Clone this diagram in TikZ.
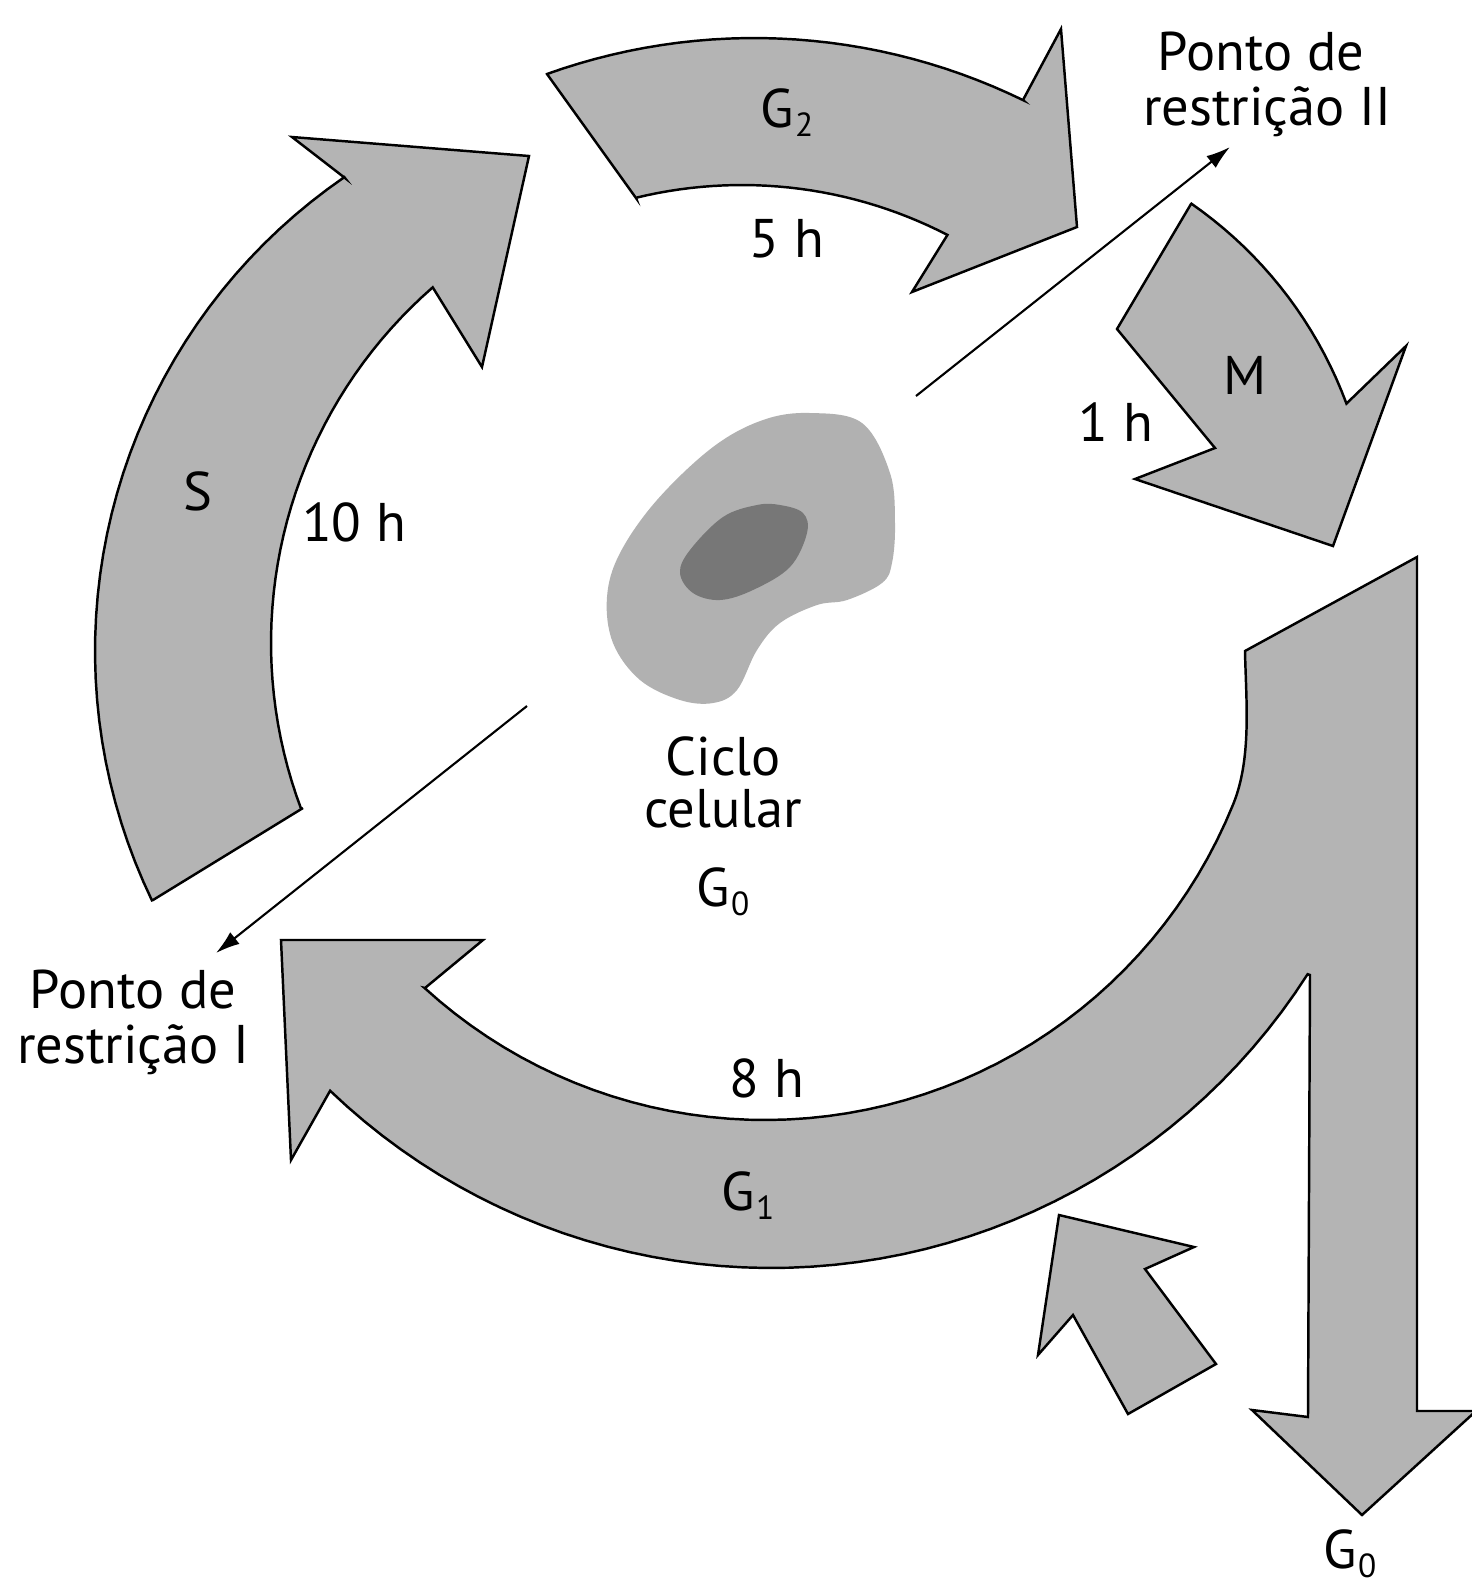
\documentclass[tikz,border=0pt]{standalone}
\usepackage{fontspec}
\setmainfont{PT Sans}
\usetikzlibrary{arrows.meta}
\definecolor{phasegray}{RGB}{180,180,180}
\definecolor{cellgray}{RGB}{177,177,177}
\definecolor{nucgray}{RGB}{119,119,119}
\newcommand{\lowidx}[1]{\kern0.3pt\raisebox{-2.8pt}{\fontsize{9.5}{9.5}\selectfont #1}}

\begin{document}
\begin{tikzpicture}[x=0.1mm, y=-0.1mm,
    phase/.style={fill=phasegray, draw=black, line width=0.7pt, line join=miter},
    pointer/.style={-{Latex[length=2.4mm,width=1.5mm]}, line width=0.6pt},
    every node/.style={font=\fontsize{15.5}{15.5}\selectfont, inner sep=0pt, anchor=base}]
    \fill[white] (0,0) rectangle (1472,1582);
    \useasboundingbox (0,0) rectangle (1472,1582);

    % S
    \draw[phase] (153,900) -- (303,808)
        -- plot[domain=159.4:228.9, samples=40, variable=\t] ({743+472*cos(\t)}, {643+472*sin(\t)})
        -- (482,367) -- (529,156) -- (292,137) -- (345,178)
        -- plot[domain=235.5:154.3, samples=40, variable=\t] ({670+575*cos(\t)}, {651+575*sin(\t)})
        -- cycle;

    % G2
    \draw[phase] (547,74) -- (636,198)
        -- plot[domain=256.3:297.3, samples=30, variable=\t] ({742+448*cos(\t)}, {633+448*sin(\t)})
        -- (912,292) -- (1077,227) -- (1061,29) -- (1023,100)
        -- plot[domain=296:250.3, samples=30, variable=\t] ({754+614*cos(\t)}, {652+614*sin(\t)})
        -- cycle;

    % M
    \draw[phase] (1117,329) -- (1191,204)
        -- plot[domain=304.8:339.6, samples=20, variable=\t] ({950+423*cos(\t)}, {551+423*sin(\t)})
        -- (1406,346) -- (1333,546) -- (1135,479) -- (1215,448) -- cycle;

    % G1 with the branch down to G0
    \draw[phase] (1417,557) -- (1417,1411) -- (1476,1411) -- (1362,1515) -- (1252,1410) -- (1308,1417) -- (1310,975)
        -- plot[domain=32.6:133.8, samples=50, variable=\t] ({771+637*cos(\t)}, {631+637*sin(\t)})
        -- (291,1160) -- (281,940) -- (483,940) -- (425,988)
        -- plot[domain=132.4:22, samples=50, variable=\t] ({765+505*cos(\t)}, {615+505*sin(\t)})
        .. controls (1252,758) and (1246,700) .. (1245,651) -- cycle;

    % back from G0
    \draw[phase] (1059,1215) -- (1194,1247) -- (1145,1269) -- (1216,1364) -- (1128,1414) -- (1073,1315) -- (1038,1355) -- cycle;

    % cell and nucleus
    \fill[cellgray] plot[smooth cycle, tension=0.6] coordinates {(810,413) (862,423) (890,473) (895,523) (892,563) (882,583) (847,600) (817,605) (780,623) (757,650) (737,690) (713,703) (680,700) (640,680) (613,643) (607,597) (620,553) (657,500) (713,447) (763,420)};
    \fill[nucgray] plot[smooth cycle, tension=0.6] coordinates {(780,505) (803,513) (807,533) (790,567) (753,590) (720,600) (693,593) (680,573) (690,550) (723,517) (757,505)};

    % labels
    \foreach \nm/\x/\y/\txt in {lS/198/510/S, lTen/354/541/10 h, lGtwo/787/127/G\lowidx{2}, lFive/787/257/5 h,
        lM/1245/394/M, lOne/1116/441/1 h, lEight/767/1097/8 h, lGone/748/1210/G\lowidx{1},
        ciclo/723/775/Ciclo, celular/723/827/celular, lGzero/723/906/G\lowidx{0}, outG/1350/1568/G\lowidx{0},
        pIIa/1261/70/Ponto de, pIIb/1267/125/restrição II, pIa/133/1008/Ponto de, pIb/133/1063/restrição I}
    {
        \node (\nm) at (\x,\y) {\txt};
    }

    % restriction points
    \coordinate (rIIs) at (916,396);
    \coordinate (rIIe) at (1230,147);
    \coordinate (rIs) at (527,706);
    \coordinate (rIe) at (216,953);
    \draw[pointer] (rIIs) -- (rIIe);
    \draw[pointer] (rIs) -- (rIe);
\end{tikzpicture}
\end{document}
